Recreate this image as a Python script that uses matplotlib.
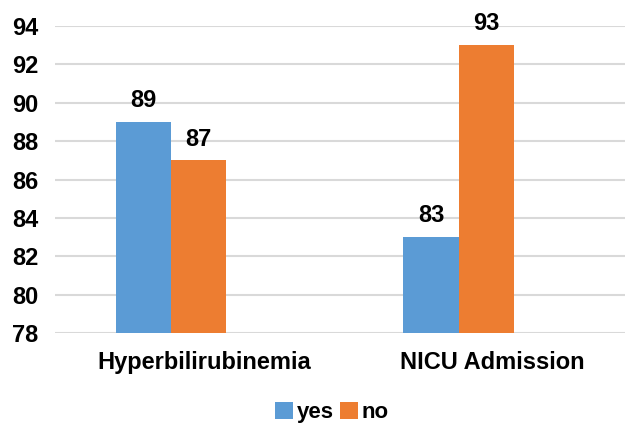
import matplotlib
matplotlib.use('Agg')
import matplotlib.pyplot as plt
import numpy as np

categories = ['Hyperbilirubinemia', 'NICU Admission']
yes_vals = [89, 83]
no_vals = [87, 93]
series_names = ['yes', 'no']
yticks = [78, 80, 82, 84, 86, 88, 90, 92, 94]

plt.rcParams['font.family'] = ['Liberation Sans', 'DejaVu Sans']
plt.rcParams['font.weight'] = 'bold'

fig = plt.figure(figsize=(6.26, 4.24), dpi=100)
ax = fig.add_axes([0.088, 0.2146, 0.91, 0.7241])

x = np.arange(len(categories))
w = 0.193
blue = '#5B9BD5'
orange = '#ED7D31'

b1 = ax.bar(x - 0.2135, yes_vals, w, color=blue, label=series_names[0], zorder=3)
b2 = ax.bar(x - 0.021, no_vals, w, color=orange, label=series_names[1], zorder=3)

for bars in (b1, b2):
    for rect in bars:
        ax.annotate(str(int(rect.get_height())),
                    (rect.get_x() + rect.get_width() / 2, rect.get_height()),
                    xytext=(0, 7), textcoords='offset points',
                    ha='center', va='bottom', fontsize=17, fontweight='bold')

ax.set_ylim(78, 94)
ax.set_yticks(yticks)
ax.set_xlim(-0.52, 1.46)
ax.set_xticks(x)
ax.set_xticklabels(categories, fontsize=17, fontweight='bold')
ax.tick_params(axis='y', labelsize=17, length=0, pad=12)
ax.tick_params(axis='x', length=0, pad=13)
for lbl in ax.get_yticklabels():
    lbl.set_fontweight('bold')

ax.grid(axis='y', color='#D9D9D9', linewidth=1.5, zorder=0)
for s in ax.spines.values():
    s.set_visible(False)

fig.legend(loc='lower center', bbox_to_anchor=(0.53, -0.045), ncol=2, frameon=False,
           handlelength=0.8, handleheight=0.8, handletextpad=0.15,
           columnspacing=0.3, prop={'weight': 'bold', 'size': 16})

fig.savefig('out.png', dpi=100)
